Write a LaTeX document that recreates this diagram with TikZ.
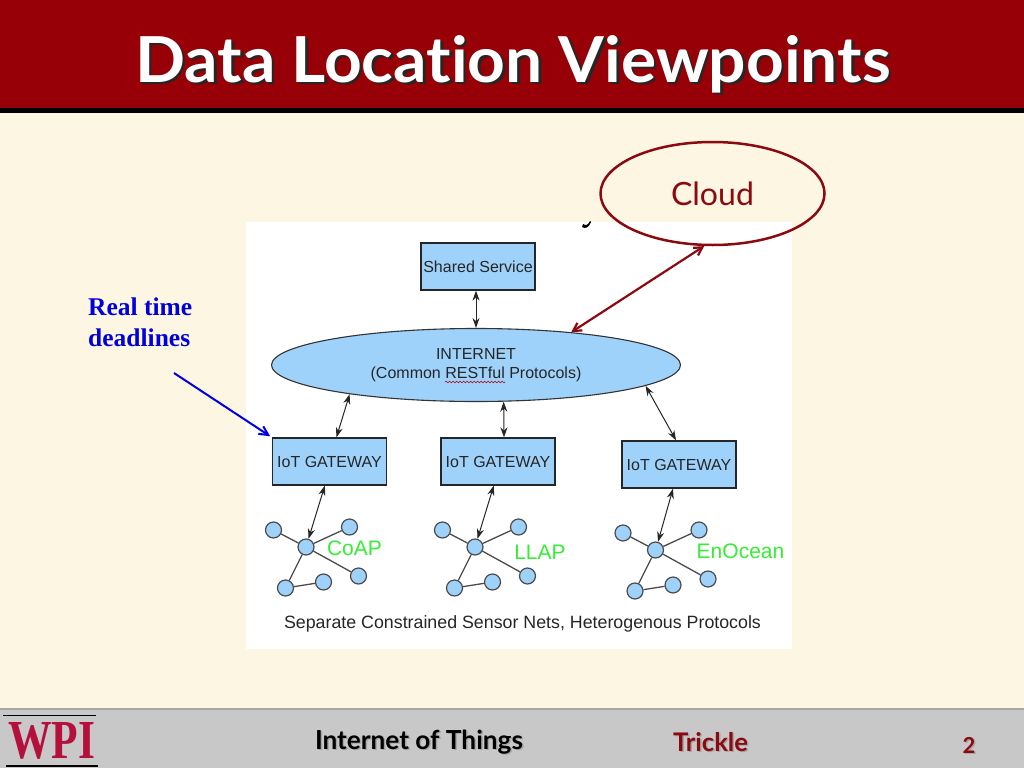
\documentclass[tikz,border=0pt]{standalone}
\usepackage{fontspec}
\usepackage{graphicx}
\setmainfont{Liberation Sans}
\newfontfamily\comicf[BoldFont=* Bold,Ligatures=NoCommon]{Lato}
\newfontfamily\serf{Liberation Serif}
\usetikzlibrary{shapes.geometric,arrows.meta,decorations.pathmorphing}
\definecolor{wred}{HTML}{960006}
\definecolor{cream}{HTML}{FDF6E3}
\definecolor{boxblue}{HTML}{9FD2FA}
\definecolor{barg}{HTML}{C8C8C8}
\definecolor{darkr}{HTML}{8B0A10}
\definecolor{green1}{HTML}{35EE35}
\definecolor{wpired}{HTML}{B5103C}
\tikzset{
 boxn/.style={draw=black!85,line width=1.3pt,fill=boxblue,rectangle,inner sep=0pt,text=black!85,font=\fontsize{16}{18}\selectfont},
 leaf/.style={circle,draw=black!70,line width=1.2pt,fill=boxblue,minimum size=16pt,inner sep=0pt},
 hubn/.style={leaf},
 twoway/.style={{Stealth[length=10pt,width=7pt]}-{Stealth[length=10pt,width=7pt]},black!85,line width=1pt},
 link/.style={black!70,line width=1.3pt},
 lbl/.style={inner sep=0pt,text=green1,font=\fontsize{21}{23}\selectfont},
 txt/.style={inner sep=0pt},
 rtl/.style={txt,anchor=base west,text=blue!85!black,font=\serf\bfseries\fontsize{25.5}{27}\selectfont},
}
\begin{document}
\begin{tikzpicture}[x=1pt,y=-1pt]
\useasboundingbox (0,0) rectangle (1024,768);
\fill[cream] (0,0) rectangle (1024,768);
\fill[wred] (0,0) rectangle (1024,108);
\fill[black] (0,108) rectangle (1024,113);
\fill[barg] (0,708) rectangle (1024,768);
\fill[black!35] (0,708) rectangle (1024,710);
% title
\node[txt,anchor=base,text=black!85] (titleshadow) at (515.5,84.5) {\resizebox{755pt}{47pt}{\comicf\bfseries Data Location Viewpoints}};
\node[txt,anchor=base,text=white] (title) at (513,82) {\resizebox{755pt}{47pt}{\comicf\bfseries Data Location Viewpoints}};
% picture panel
\fill[white] (246,222) rectangle (792,649);
\fill[black] (583,224) .. controls (586,226) and (588,225) .. (590,221) -- (591,222) .. controls (589,228) and (585,229) .. (582,227) -- cycle;
% nodes
\node[boxn,minimum width=114pt,minimum height=47pt] (shared) at (478,266.5) {Shared Service};
\node[ellipse,draw=black!80,line width=1.1pt,fill=boxblue,minimum width=409pt,minimum height=73pt,inner sep=0pt,text=black!85,align=center,font=\fontsize{16}{18.5}\selectfont] (inet) at (476,365) {INTERNET\\(Common RESTful Protocols)};
\draw[red!70!black,line width=.6pt,decorate,decoration={snake,amplitude=.8pt,segment length=3.5pt}] (445,382) -- (505,382);
\node[boxn,minimum width=114pt,minimum height=47pt] (gw1) at (329.5,461.5) {IoT GATEWAY};
\node[boxn,minimum width=114pt,minimum height=47pt] (gw2) at (498,461.5) {IoT GATEWAY};
\node[boxn,minimum width=114pt,minimum height=47pt] (gw3) at (679,464.5) {IoT GATEWAY};
\node[ellipse,draw=darkr,line width=2.5pt,minimum width=224pt,minimum height=103pt,inner sep=0pt,text=darkr,font=\comicf\fontsize{35}{38}\selectfont] (cloud) at (712.5,193.5) {\resizebox{83pt}{!}{Cloud}};
% sensor nets
\foreach \n/\dx/\dy in {1/0/0,2/169/0,3/349.5/3}{
 \begin{scope}[shift={(\dx,\dy)}]
  \node[leaf] (a\n) at (273.5,530) {};
  \node[hubn] (h\n) at (306,547) {};
  \node[leaf] (b\n) at (349.5,527) {};
  \node[leaf] (c\n) at (358.5,576) {};
  \node[leaf] (d\n) at (323.5,582) {};
  \node[leaf] (e\n) at (285.5,588) {};
  \draw[link] (a\n)--(h\n) (h\n)--(b\n) (h\n)--(c\n) (h\n)--(e\n) (e\n)--(d\n);
 \end{scope}
}
\node[lbl] (coap) at (354.5,548) {CoAP};
\node[lbl] (llap) at (540,552) {LLAP};
\node[lbl] (enoc) at (740.5,551) {EnOcean};
\node[txt,text=black!85,font=\fontsize{17.8}{19}\selectfont] (sep) at (522.5,624) {Separate Constrained Sensor Nets, Heterogenous Protocols};
% connectors
\draw[twoway] (shared.south -| inet.north) -- (inet.north);
\draw[twoway] (inet.193) -- (gw1.74);
\draw[twoway] (inet.-53.5) -- (gw2.76);
\draw[twoway] (inet.-7.6) -- (gw3.97);
\draw[twoway] (gw1.259) -- (h1.73);
\draw[twoway] (gw2.260) -- (h2.73);
\draw[twoway] (gw3.256) -- (h3.73);
\draw[darkr,line width=2.2pt,{Straight Barb[length=8pt,width=9pt]}-{Straight Barb[length=8pt,width=9pt]}] (inet.19.5) -- (cloud.261.7);
\coordinate (bluestart) at (174,373);
\draw[blue!90!black,line width=2pt,-{Straight Barb[length=9pt,width=9pt]},shorten >=2pt] (bluestart) -- (gw1.north west);
\node[rtl] (rt1) at (88,315) {Real time};
\node[rtl] (rt2) at (88,346) {deadlines};
% footer
\node[txt,text=black!35] (fs1) at (420.5,743.5) {\resizebox{208pt}{!}{\comicf\bfseries Internet of Things}};
\node[txt,text=black] (f1) at (419,742) {\resizebox{208pt}{!}{\comicf\bfseries Internet of Things}};
\node[txt,text=black!35] (fs2) at (712,743.5) {\resizebox{75pt}{!}{\comicf\bfseries Trickle}};
\node[txt,text=darkr] (f2) at (710.5,742) {\resizebox{75pt}{!}{\comicf\bfseries Trickle}};
\node[txt,text=black!35,font=\comicf\bfseries\fontsize{22}{24}\selectfont] (fs3) at (970.5,746) {2};
\node[txt,text=darkr,font=\comicf\bfseries\fontsize{22}{24}\selectfont] (f3) at (969,745) {2};
% logo
\fill[black] (3,714.5) rectangle (96,716);
\fill[black] (6,765) rectangle (98,767);
\node[txt,anchor=base,text=wpired] (wpi) at (52,758) {\resizebox{87pt}{36pt}{\serf\bfseries WPI}};
\end{tikzpicture}
\end{document}
